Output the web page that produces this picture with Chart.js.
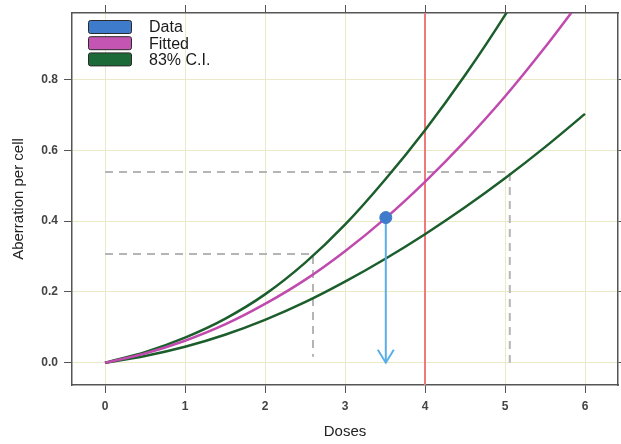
<!DOCTYPE html>
<html>
<head>
<meta charset="utf-8">
<script src="https://cdn.jsdelivr.net/npm/chart.js@4.4.1/dist/chart.umd.min.js"></script>
<style>
  html, body { margin: 0; padding: 0; background: #fff; }
  #wrap { width: 621px; height: 444px; }
</style>
</head>
<body>
<div id="wrap"><canvas id="myChart" width="621" height="444"></canvas></div>
<script>
// values
const doses    = [0, 0.5, 1, 1.5, 2, 2.5, 3, 3.5, 4, 4.5, 5, 5.5, 6];
const fitted   = [0, 0.026, 0.062, 0.108, 0.166, 0.234, 0.315, 0.407, 0.511, 0.626, 0.752, 0.891, 1.04];
const ciUpper  = [0, 0.030, 0.071, 0.124, 0.193, 0.282, 0.390, 0.517, 0.657, 0.812, 0.982, 1.17, 1.38];
const ciLower  = [0, 0.019, 0.045, 0.079, 0.121, 0.171, 0.229, 0.293, 0.363, 0.439, 0.521, 0.609, 0.703];

const xTicks = [0, 1, 2, 3, 4, 5, 6];
const yTicks = [0, 0.2, 0.4, 0.6, 0.8];

const dataPoint = { x: 3.51, y: 0.41 };
const refDose = 4;
const lowRead  = { x: 2.6,  y: 0.307, yEnd: 0.017 };
const highRead = { x: 5.06, y: 0.539, yEnd: 0 };

const xMin = -0.4125, xMax = 6.4125;
const yMin = -0.063, yMax = 0.988;

const legendItems = [
    { label: 'Data', color: '#3f7bcb' },
    { label: 'Fitted', color: '#c455b2' },
    { label: '83% C.I.', color: '#1c6a38' }
];

const FONT = '"Liberation Sans", Arial, sans-serif';

function pts(xs, ys) {
    return xs.map((x, i) => ({ x: x, y: ys[i] }));
}

const fixTicks = (vals) => (axis) => { axis.ticks = vals.map(v => ({ value: v })); };

const legendPlugin = {
    id: 'insideLegend',
    afterDraw(chart) {
        const { ctx, chartArea } = chart;
        ctx.save();
        ctx.font = '16px ' + FONT;
        ctx.textBaseline = 'middle';
        legendItems.forEach((item, i) => {
            const cy = chartArea.top + 14 + i * 16.2;
            ctx.fillStyle = item.color;
            ctx.strokeStyle = '#2b2b2b';
            ctx.lineWidth = 1;
            ctx.beginPath();
            ctx.roundRect(chartArea.left + 16.5, cy - 6.5, 43, 13, 2);
            ctx.fill();
            ctx.stroke();
            ctx.fillStyle = '#1a1a1a';
            ctx.fillText(item.label, chartArea.left + 77, cy + 1);
        });
        ctx.restore();
    }
};

const arrowPlugin = {
    id: 'arrowHead',
    afterDatasetsDraw(chart) {
        const xs = chart.scales.x, ys = chart.scales.y;
        const px = xs.getPixelForValue(dataPoint.x);
        const py = ys.getPixelForValue(0);
        const ctx = chart.ctx;
        ctx.save();
        ctx.strokeStyle = '#5aaeea';
        ctx.lineWidth = 2;
        ctx.beginPath();
        ctx.moveTo(px - 8, py - 13);
        ctx.lineTo(px, py);
        ctx.lineTo(px + 8, py - 13);
        ctx.stroke();
        ctx.restore();
    }
};

const ctx = document.getElementById('myChart').getContext('2d');

const curve = (label, ys, color) => ({
    label: label,
    data: pts(doses, ys),
    borderColor: color,
    borderWidth: 2.5,
    pointRadius: 0,
    showLine: true,
    tension: 0.3
});

new Chart(ctx, {
    type: 'scatter',
    data: {
        datasets: [
            {
                label: 'Data',
                data: [dataPoint],
                backgroundColor: '#3f7bcb',
                borderColor: '#3f7bcb',
                pointRadius: 6,
                showLine: false
            },
            {
                label: 'arrow',
                data: [{ x: dataPoint.x, y: dataPoint.y }, { x: dataPoint.x, y: 0 }],
                borderColor: '#5aaeea',
                borderWidth: 2,
                pointRadius: 0,
                showLine: true
            },
            curve('Fitted', fitted, '#c04aae'),
            curve('upper', ciUpper, '#1b5e2c'),
            curve('lower', ciLower, '#1b5e2c'),
            {
                label: 'dose',
                data: [{ x: refDose, y: yMin - 1 }, { x: refDose, y: yMax + 1 }],
                borderColor: '#ee7b7b',
                borderWidth: 2,
                pointRadius: 0,
                showLine: true
            },
            {
                label: 'readLow',
                data: [{ x: 0, y: lowRead.y }, { x: lowRead.x, y: lowRead.y }, { x: lowRead.x, y: lowRead.yEnd }],
                borderColor: '#b5b5b5',
                borderWidth: 2,
                borderDash: [8, 6],
                pointRadius: 0,
                showLine: true
            },
            {
                label: 'readHigh',
                data: [{ x: 0, y: highRead.y }, { x: highRead.x, y: highRead.y }, { x: highRead.x, y: highRead.yEnd }],
                borderColor: '#b5b5b5',
                borderWidth: 2,
                borderDash: [8, 6],
                pointRadius: 0,
                showLine: true
            }
        ]
    },
    options: {
        responsive: false,
        animation: false,
        layout: { padding: 0, autoPadding: false },
        plugins: {
            legend: { display: false },
            tooltip: { enabled: false }
        },
        scales: {
            x: {
                type: 'linear',
                position: 'bottom',
                min: xMin,
                max: xMax,
                afterBuildTicks: fixTicks(xTicks),
                afterFit: (s) => { s.height = 59; s.paddingLeft = 0; s.paddingRight = 0; },
                grid: { color: '#eae9c8', tickColor: '#555', tickLength: 8 },
                border: { color: '#555', width: 1.5 },
                ticks: { color: '#444', padding: 6, font: { family: FONT, size: 12, weight: 'bold' }, maxRotation: 0 },
                title: { display: true, text: 'Doses', color: '#222', font: { family: FONT, size: 15 }, padding: { top: 4, bottom: 3 } }
            },
            x2: {
                type: 'linear',
                position: 'top',
                min: xMin,
                max: xMax,
                afterBuildTicks: fixTicks(xTicks),
                afterFit: (s) => { s.height = 13; s.paddingLeft = 0; s.paddingRight = 0; },
                grid: { drawOnChartArea: false, tickColor: '#555', tickLength: 8 },
                border: { color: '#555', width: 1.5 },
                ticks: { display: false }
            },
            y: {
                type: 'linear',
                position: 'left',
                min: yMin,
                max: yMax,
                afterBuildTicks: fixTicks(yTicks),
                afterFit: (s) => { s.width = 72; s.paddingTop = 0; s.paddingBottom = 0; },
                grid: { color: '#eae9c8', tickColor: '#555', tickLength: 8 },
                border: { color: '#555', width: 1.5 },
                ticks: {
                    color: '#444', padding: 6,
                    font: { family: FONT, size: 12, weight: 'bold' },
                    callback: (v) => v.toFixed(1)
                },
                title: { display: true, text: 'Aberration per cell', color: '#222', font: { family: FONT, size: 15 }, padding: { top: 10, bottom: 0 } }
            },
            y2: {
                type: 'linear',
                position: 'right',
                min: yMin,
                max: yMax,
                afterBuildTicks: fixTicks(yTicks),
                afterFit: (s) => { s.width = 3; s.paddingTop = 0; s.paddingBottom = 0; },
                grid: { drawOnChartArea: false, tickColor: '#555', tickLength: 8 },
                border: { color: '#555', width: 1.5 },
                ticks: { display: false }
            }
        }
    },
    plugins: [legendPlugin, arrowPlugin]
});
</script>
</body>
</html>
